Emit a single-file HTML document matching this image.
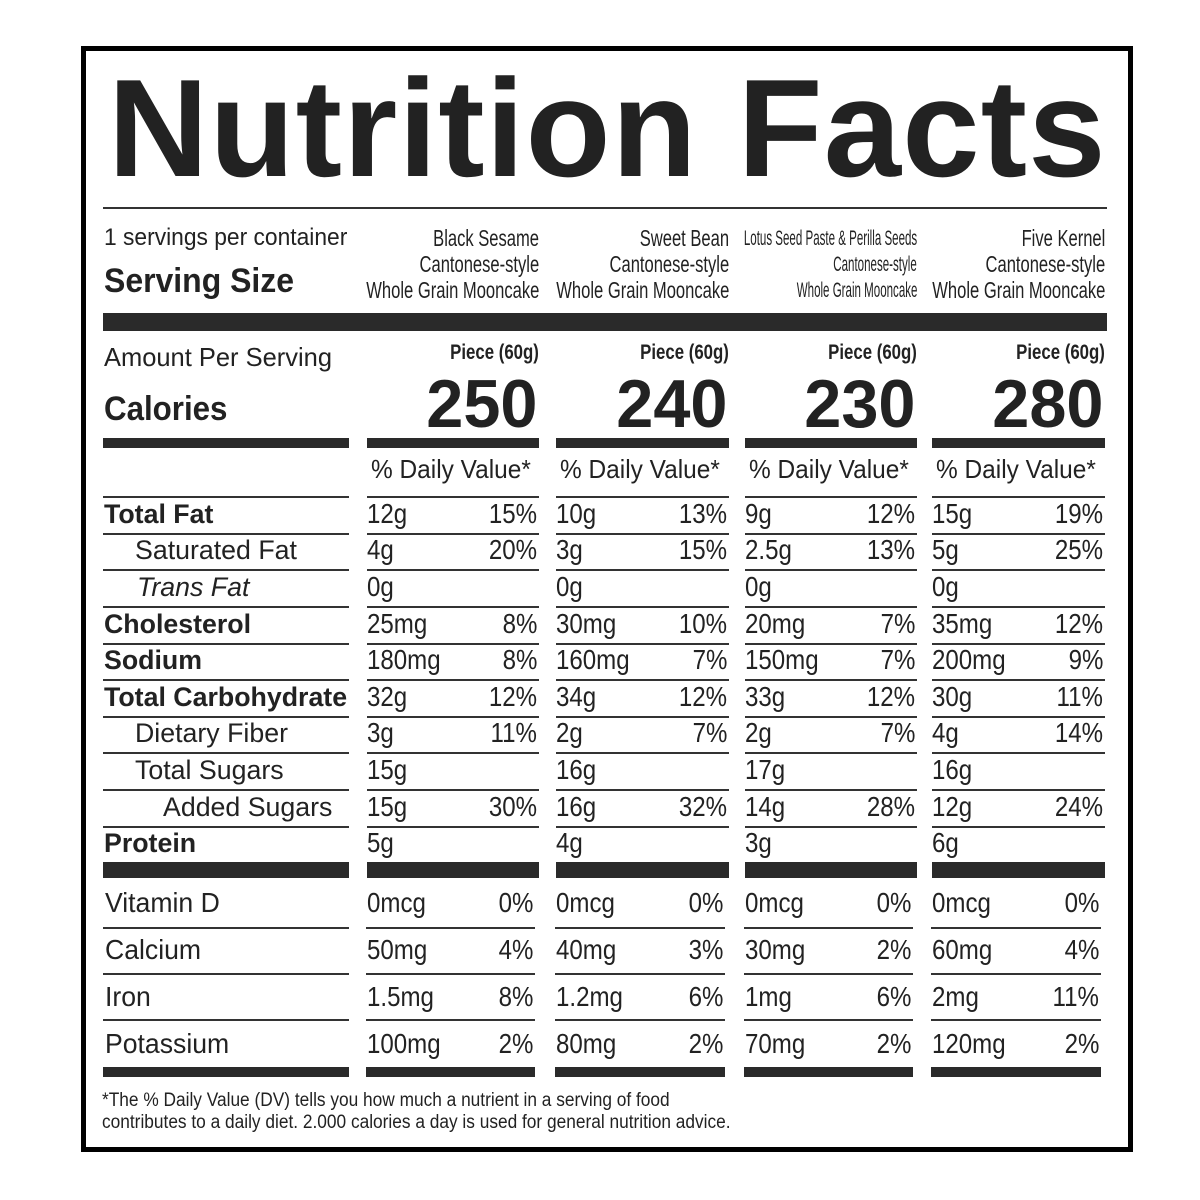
<!DOCTYPE html>
<html><head><meta charset="utf-8"><style>
body{margin:0;width:1200px;height:1200px;background:#fff;position:relative;overflow:hidden;font-family:"Liberation Sans",Arial,sans-serif;color:#222}
.t{position:absolute;white-space:nowrap;line-height:1}
.l{position:absolute;background:#333}
</style></head><body>
<div style="position:absolute;left:81px;top:46px;width:1042px;height:1096px;border:5px solid #000"></div>
<div id="root"></div>
<script>
const R=document.getElementById('root');
function t(x,base,s,size,o={}){
 const d=document.createElement('div');d.className='t';d.textContent=s;
 d.style.fontSize=size+'px';
 d.style.top=(base-0.846*size)+'px';
 if(o.b)d.style.fontWeight='bold';
 if(o.i)d.style.fontStyle='italic';
 if(o.ls)d.style.letterSpacing=o.ls+'px';
 const sx=o.sx||1;
 if(o.r){d.style.right=(1200-x)+'px';d.style.transformOrigin='right';}
 else{d.style.left=x+'px';d.style.transformOrigin='left';}
 if(sx!=1)d.style.transform='scaleX('+sx+')';
 R.appendChild(d);
}
function l(x1,x2,y,h){const d=document.createElement('div');d.className='l';d.style.left=x1+'px';d.style.width=(x2-x1)+'px';d.style.top=y+'px';d.style.height=h+'px';if(h>4)d.style.background='#2a2a2a';R.appendChild(d);}
t(108,177,'Nutrition Facts',139,{b:1,ls:1.2});
l(103,1107,207,2);
t(104,246,'1 servings per container',24,{sx:0.95});
t(104,293,'Serving Size',34,{b:1,sx:0.94});
const cols=[[367,539],[556,729],[745,917],[932,1105]];
const names=[['Black Sesame','Cantonese-style','Whole Grain Mooncake',0.72],['Sweet Bean','Cantonese-style','Whole Grain Mooncake',0.72],['Lotus Seed Paste & Perilla Seeds','Cantonese-style','Whole Grain Mooncake',0.55],['Five Kernel','Cantonese-style','Whole Grain Mooncake',0.72]];
const cal=['250','240','230','280'];
cols.forEach((c,i)=>{
 const n=names[i];const fs=i==2?21:23;
 t(c[1],246,n[0],fs,{r:1,sx:n[3]});t(c[1],272,n[1],fs,{r:1,sx:n[3]});t(c[1],298,n[2],fs,{r:1,sx:n[3]});
 t(c[1],360,'Piece (60g)',21,{r:1,b:1,sx:0.8});
 t(c[1]-2,428,cal[i],68,{r:1,b:1,sx:0.98});
 l(c[0],c[1],438,10);
 t(c[0]+4,478,'% Daily Value*',26,{sx:0.94});
});
l(103,1107,313,18);
t(104,366,'Amount Per Serving',26,{sx:0.98});
t(104,421,'Calories',34,{b:1,sx:0.92});
l(103,349,438,10);
const lines=[496,533,569,606,643,679,716,752,789,826];
const rows=[
 ['Total Fat',104,1,0,[['12g','15%'],['10g','13%'],['9g','12%'],['15g','19%']]],
 ['Saturated Fat',135,0,0,[['4g','20%'],['3g','15%'],['2.5g','13%'],['5g','25%']]],
 ['Trans Fat',137,0,1,[['0g',''],['0g',''],['0g',''],['0g','']]],
 ['Cholesterol',104,1,0,[['25mg','8%'],['30mg','10%'],['20mg','7%'],['35mg','12%']]],
 ['Sodium',104,1,0,[['180mg','8%'],['160mg','7%'],['150mg','7%'],['200mg','9%']]],
 ['Total Carbohydrate',104,1,0,[['32g','12%'],['34g','12%'],['33g','12%'],['30g','11%']]],
 ['Dietary Fiber',135,0,0,[['3g','11%'],['2g','7%'],['2g','7%'],['4g','14%']]],
 ['Total Sugars',135,0,0,[['15g',''],['16g',''],['17g',''],['16g','']]],
 ['Added Sugars',163,0,0,[['15g','30%'],['16g','32%'],['14g','28%'],['12g','24%']]],
 ['Protein',104,1,0,[['5g',''],['4g',''],['3g',''],['6g','']]],
];
lines.forEach(y=>{l(103,349,y,2);cols.forEach(c=>l(c[0],c[1],y,2));});
rows.forEach((r,k)=>{
 const base=(k<9?lines[k+1]:862)-9;
 t(r[1],base,r[0],27,{b:r[2],i:r[3],sx:0.99});
 cols.forEach((c,i)=>{t(c[0],base,r[4][i][0],28,{sx:0.86});if(r[4][i][1])t(c[1]-2,base,r[4][i][1],28,{r:1,sx:0.86});});
});
l(103,349,862,16);cols.forEach(c=>l(c[0],c[1],862,16));
const low=[['Vitamin D',913,[['0mcg','0%'],['0mcg','0%'],['0mcg','0%'],['0mcg','0%']]],
['Calcium',960,[['50mg','4%'],['40mg','3%'],['30mg','2%'],['60mg','4%']]],
['Iron',1007,[['1.5mg','8%'],['1.2mg','6%'],['1mg','6%'],['2mg','11%']]],
['Potassium',1054,[['100mg','2%'],['80mg','2%'],['70mg','2%'],['120mg','2%']]]];
low.forEach(r=>{
 t(105,r[1],r[0],28,{sx:0.95});
 cols.forEach((c,i)=>{t(c[0],r[1],r[2][i][0],28,{sx:0.86});t(c[1]-6,r[1],r[2][i][1],28,{r:1,sx:0.86});});
});
[927,973,1019].forEach(y=>{l(103,349,y,2);cols.forEach(c=>l(c[0]-1,c[1]-4,y,2));});
l(103,349,1067,10);cols.forEach(c=>l(c[0]-1,c[1]-4,1067,10));
t(102,1107,'*The % Daily Value (DV) tells you how much a nutrient in a serving of food',19,{sx:0.91});
t(102,1129,'contributes to a daily diet. 2.000 calories a day is used for general nutrition advice.',19,{sx:0.91});
</script>
</body></html>
